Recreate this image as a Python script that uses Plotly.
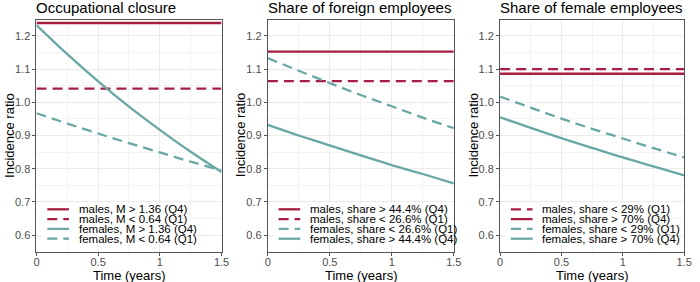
import plotly.graph_objects as go

W, H = 700, 282

# ---------------- data ----------------
time_years = [0, 0.25, 0.5, 0.75, 1.0, 1.25, 1.5]

panel_titles = ["Occupational closure", "Share of foreign employees", "Share of female employees"]

# panel 1
p1_labels = ["males, M > 1.36 (Q4)", "males, M < 0.64 (Q1)",
             "females, M > 1.36 (Q4)", "females, M < 0.64 (Q1)"]
p1_males_q4 = [1.239, 1.239, 1.239, 1.239, 1.239, 1.239, 1.239]
p1_males_q1 = [1.041, 1.041, 1.041, 1.041, 1.041, 1.041, 1.041]
p1_females_q4 = [1.233, 1.145, 1.063, 0.987, 0.917, 0.851, 0.790]
p1_females_q1 = [0.967, 0.936, 0.906, 0.877, 0.849, 0.821, 0.795]

# panel 2
p2_labels = ["males, share > 44.4% (Q4)", "males, share < 26.6% (Q1)",
             "females, share < 26.6% (Q1)", "females, share > 44.4% (Q4)"]
p2_males_q4 = [1.153, 1.153, 1.153, 1.153, 1.153, 1.153, 1.153]
p2_males_q1 = [1.064, 1.064, 1.064, 1.064, 1.064, 1.064, 1.064]
p2_females_q1 = [1.133, 1.095, 1.058, 1.022, 0.988, 0.954, 0.922]
p2_females_q4 = [0.932, 0.900, 0.870, 0.840, 0.811, 0.784, 0.756]

# panel 3
p3_labels = ["males, share < 29% (Q1)", "males, share > 70% (Q4)",
             "females, share < 29% (Q1)", "females, share > 70% (Q4)"]
p3_males_q1 = [1.100, 1.100, 1.100, 1.100, 1.100, 1.100, 1.100]
p3_males_q4 = [1.086, 1.086, 1.086, 1.086, 1.086, 1.086, 1.086]
p3_females_q1 = [1.017, 0.984, 0.951, 0.920, 0.891, 0.862, 0.834]
p3_females_q4 = [0.955, 0.923, 0.892, 0.863, 0.834, 0.807, 0.780]

x_tickvals = [0, 0.5, 1, 1.5]
x_ticktext = ["0", "0.5", "1", "1.5"]
y_tickvals = [0.6, 0.7, 0.8, 0.9, 1.0, 1.1, 1.2]
y_ticktext = ["0.6", "0.7", "0.8", "0.9", "1.0", "1.1", "1.2"]

# ---------------- styling ----------------
RED = "#A51D40"
TEAL = "#69A7A5"
DASH = "10px,6px"
FONT = "Liberation Sans, Arial, sans-serif"

panel_left_px = [34, 269, 505]
panel_right_px = [222, 458, 692]
top_px, bottom_px = 20, 252

series = [
    [(p1_males_q4, RED, "solid"), (p1_males_q1, RED, DASH),
     (p1_females_q4, TEAL, "solid"), (p1_females_q1, TEAL, DASH)],
    [(p2_males_q4, RED, "solid"), (p2_males_q1, RED, DASH),
     (p2_females_q1, TEAL, DASH), (p2_females_q4, TEAL, "solid")],
    [(p3_males_q1, RED, DASH), (p3_males_q4, RED, "solid"),
     (p3_females_q1, TEAL, DASH), (p3_females_q4, TEAL, "solid")],
]
labels = [p1_labels, p2_labels, p3_labels]
legend_right_px = [182, 442, 670]

fig = go.Figure()
layout = dict(
    width=W, height=H, autosize=False,
    margin=dict(l=0, r=0, t=0, b=0),
    paper_bgcolor="white", plot_bgcolor="white",
    showlegend=False,
    font=dict(family=FONT, color="black"),
)
annotations = []
shapes = []


def px_x(p):
    return p / W


def px_y(p):
    return 1 - p / H


for i in range(3):
    sfx = "" if i == 0 else str(i + 1)
    xa, ya = "x" + sfx, "y" + sfx
    for (vals, col, dash), lab in zip(series[i], labels[i]):
        fig.add_trace(go.Scatter(
            x=time_years, y=vals, mode="lines", name=lab,
            line=dict(color=col, width=2.3, dash=dash, shape="spline"),
            xaxis=xa, yaxis=ya, hoverinfo="skip"))
    common = dict(showline=True, mirror=True, linecolor="#555555", linewidth=1,
                  ticks="outside", ticklen=3, tickcolor="#555555",
                  tickfont=dict(size=11, color="#4D4D4D", family=FONT),
                  showgrid=True, gridcolor="#EBEBEB", gridwidth=1,
                  zeroline=False, fixedrange=True)
    layout["xaxis" + sfx] = dict(
        domain=[px_x(panel_left_px[i]), px_x(panel_right_px[i])],
        range=[0, 1.5], tickvals=x_tickvals, ticktext=x_ticktext,
        anchor=ya, ticklabelstandoff=-3,
        minor=dict(tickvals=[0.25, 0.75, 1.25], showgrid=True,
                   gridcolor="#F3F3F3", gridwidth=1, ticks=""),
        **common)
    layout["yaxis" + sfx] = dict(
        domain=[px_y(bottom_px), px_y(top_px)],
        range=[0.549, 1.248], tickvals=y_tickvals, ticktext=y_ticktext,
        anchor=xa,
        minor=dict(tickvals=[0.55, 0.65, 0.75, 0.85, 0.95, 1.05, 1.15, 1.25],
                   showgrid=True, gridcolor="#F3F3F3", gridwidth=1, ticks=""),
        **common)

    L = panel_left_px[i]
    R = panel_right_px[i]
    # panel title
    annotations.append(dict(text=panel_titles[i], xref="paper", yref="paper",
                            x=px_x(L - 1), y=px_y(7.5), xanchor="left", yanchor="middle",
                            borderpad=0,
                            showarrow=False, font=dict(size=15, family=FONT, color="black")))
    # x axis title
    annotations.append(dict(text="Time (years)", xref="paper", yref="paper",
                            x=px_x((L + R) / 2), y=px_y(275.5), xanchor="center", yanchor="middle",
                            showarrow=False, font=dict(size=13, family=FONT, color="black")))
    # y axis title
    annotations.append(dict(text="Incidence ratio", xref="paper", yref="paper",
                            x=px_x(L - 28), y=px_y(135), xanchor="center", yanchor="middle",
                            textangle=-90, showarrow=False,
                            font=dict(size=13, family=FONT, color="black")))
    # legend background (white box, drawn above grid; no data passes here)
    shapes.append(dict(type="rect", layer="above",
                       xref="paper", yref="paper",
                       x0=px_x(L + 6), x1=px_x(legend_right_px[i]),
                       y0=px_y(245), y1=px_y(203),
                       fillcolor="white", line=dict(width=0)))
    # legend entries
    rows = [209.3, 219.1, 228.9, 238.7]
    for (vals, col, dash), lab, ry in zip(series[i], labels[i], rows):
        shapes.append(dict(type="line", xref="paper", yref="paper", layer="above",
                           x0=px_x(L + 11), x1=px_x(L + 33), y0=px_y(ry), y1=px_y(ry),
                           line=dict(color=col, width=2.3, dash=dash)))
        annotations.append(dict(text=lab, xref="paper", yref="paper",
                                x=px_x(L + 42), y=px_y(ry), xanchor="left", yanchor="middle",
                                borderpad=0,
                                showarrow=False, font=dict(size=11.5, family=FONT, color="black")))

layout["annotations"] = annotations
layout["shapes"] = shapes
fig.update_layout(**layout)
fig.write_html("out.html",
               config={"displayModeBar": False},
               post_script="document.body.style.margin='0px';document.body.style.overflow='hidden';")
